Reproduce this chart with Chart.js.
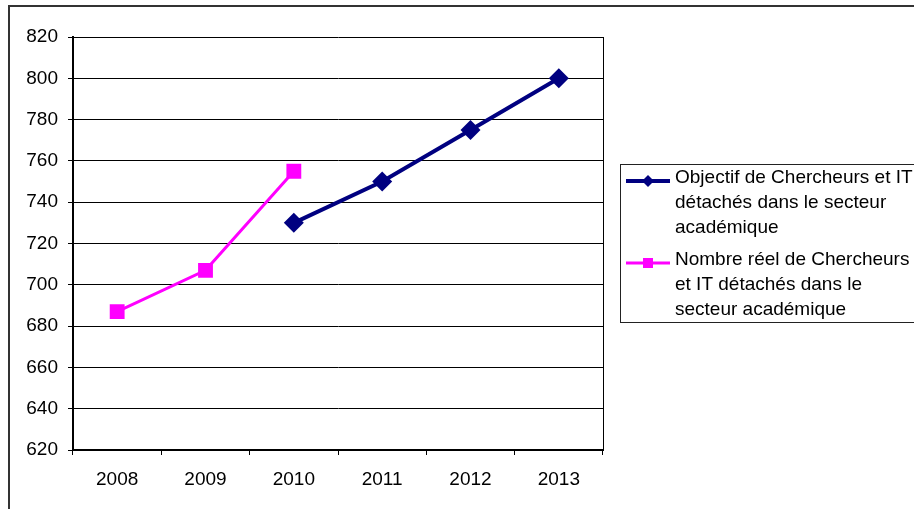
<!DOCTYPE html>
<html>
<head>
<meta charset="utf-8">
<script src="https://cdn.jsdelivr.net/npm/chart.js@4"></script>
<style>
    html, body { margin: 0; padding: 0; background: #fff; }
    #wrap { position: relative; width: 914px; height: 509px; }
</style>
</head>
<body>
<div id="wrap"><canvas id="chart" width="914" height="509"></canvas></div>
<script>
const years = ['2008', '2009', '2010', '2011', '2012', '2013'];
const objectifValues = [null, null, 730, 750, 775, 800];
const reelValues = [687, 707, 755, null, null, null];
const yTicks = [620, 640, 660, 680, 700, 720, 740, 760, 780, 800, 820];
const legendLines = [
    ['Objectif de Chercheurs et IT', 'détachés dans le secteur', 'académique'],
    ['Nombre réel de Chercheurs', 'et IT détachés dans le', 'secteur académique']
];

const FONT = '"Liberation Sans", Arial, sans-serif';
const NAVY = '#000080';
const PINK = '#FF00FF';

// frame round the whole chart + right edge of the plot area
const framePlugin = {
    id: 'frame',
    beforeDraw(chart) {
        const ctx = chart.ctx;
        ctx.save();
        ctx.strokeStyle = '#333';
        ctx.lineWidth = 2;
        ctx.strokeRect(9, 6, 1000, 1000);
        ctx.restore();
    },
    afterDatasetsDraw(chart) {
        const a = chart.chartArea;
        const ctx = chart.ctx;
        ctx.save();
        ctx.strokeStyle = '#000';
        ctx.lineWidth = 1;
        ctx.beginPath();
        ctx.moveTo(a.right + 0.5, a.top);
        ctx.lineTo(a.right + 0.5, a.bottom);
        ctx.stroke();
        ctx.restore();
    }
};

// legend with wrapped text, drawn on the right
const sideLegend = {
    id: 'sideLegend',
    afterDraw(chart) {
        const ctx = chart.ctx;
        ctx.save();
        ctx.strokeStyle = '#222';
        ctx.lineWidth = 1;
        ctx.strokeRect(620.5, 164.5, 400, 158);
        ctx.font = '19px ' + FONT;
        ctx.textBaseline = 'middle';
        const starts = [178, 260];
        chart.data.datasets.forEach((ds, i) => {
            const y = starts[i];
            ctx.strokeStyle = ds.borderColor;
            ctx.lineWidth = ds.borderWidth;
            ctx.beginPath();
            ctx.moveTo(626, y + 3);
            ctx.lineTo(670, y + 3);
            ctx.stroke();
            ctx.fillStyle = ds.borderColor;
            if (ds.pointStyle === 'rectRot') {
                ctx.beginPath();
                ctx.moveTo(648, y + 3 - 6);
                ctx.lineTo(654, y + 3);
                ctx.lineTo(648, y + 3 + 6);
                ctx.lineTo(642, y + 3);
                ctx.closePath();
                ctx.fill();
            } else {
                ctx.fillRect(643, y + 3 - 5, 10, 10);
            }
            ctx.fillStyle = '#000';
            legendLines[i].forEach((line, j) => {
                ctx.fillText(line, 675, y + j * 25);
            });
        });
        ctx.restore();
    }
};

new Chart(document.getElementById('chart'), {
    type: 'line',
    data: {
        labels: years,
        datasets: [{
            label: legendLines[0].join(' '),
            data: objectifValues,
            borderColor: NAVY,
            backgroundColor: NAVY,
            borderWidth: 4,
            pointStyle: 'rectRot',
            pointRadius: 10,
            pointHoverRadius: 10,
            pointBorderWidth: 0,
            tension: 0
        }, {
            label: legendLines[1].join(' '),
            data: reelValues,
            borderColor: PINK,
            backgroundColor: PINK,
            borderWidth: 3,
            pointStyle: 'rect',
            pointRadius: 10.5,
            pointHoverRadius: 10.5,
            pointBorderWidth: 0,
            tension: 0
        }]
    },
    options: {
        responsive: false,
        animation: false,
        layout: { padding: { left: 0, top: 37, right: 311, bottom: 0 } },
        plugins: {
            legend: { display: false },
            tooltip: { enabled: false }
        },
        scales: {
            x: {
                offset: true,
                grid: {
                    offset: true,
                    drawOnChartArea: false,
                    drawTicks: true,
                    tickLength: 5,
                    color: '#000'
                },
                border: { color: '#000', width: 2 },
                ticks: {
                    color: '#000',
                    font: { family: FONT, size: 19 },
                    padding: 13,
                    maxRotation: 0
                },
                afterFit(axis) { axis.height = 59; }
            },
            y: {
                min: 620,
                max: 820,
                afterBuildTicks(axis) { axis.ticks = yTicks.map(v => ({ value: v })); },
                grid: {
                    color: '#000',
                    lineWidth: 1,
                    drawTicks: true,
                    tickLength: 5
                },
                border: { color: '#000', width: 2 },
                ticks: {
                    color: '#000',
                    font: { family: FONT, size: 19 },
                    padding: 10
                },
                afterFit(axis) { axis.width = 73; }
            }
        }
    },
    plugins: [framePlugin, sideLegend]
});
</script>
</body>
</html>
